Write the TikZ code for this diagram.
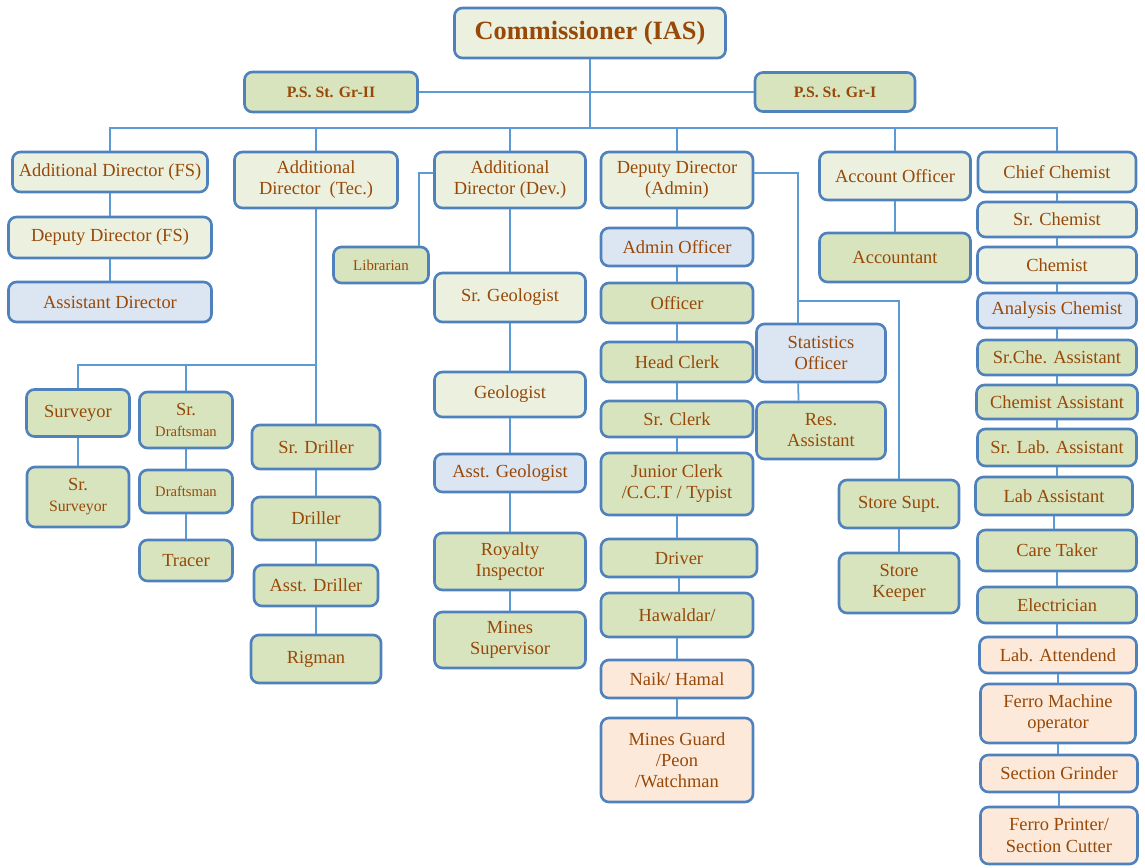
\documentclass[tikz,border=0pt]{standalone}
\usepackage{fontspec}
\setmainfont{Liberation Serif}
\usetikzlibrary{positioning}

\definecolor{boxline}{HTML}{4F81BD}
\definecolor{linkblue}{HTML}{5B9BD5}
\definecolor{txtbrown}{HTML}{984807}
\definecolor{palefill}{HTML}{EBF1DE}
\definecolor{greenfill}{HTML}{D7E4BD}
\definecolor{bluefill}{HTML}{DCE6F2}
\definecolor{peachfill}{HTML}{FDE9D9}

\begin{document}
\begin{tikzpicture}[
        x=0.02cm, y=-0.02cm,
        post/.style = {rectangle, draw=boxline, line width=1.5pt, rounded corners=4.5pt, text=txtbrown, align=center, inner sep=1pt, font=\fontsize{10.5}{12}\selectfont},
        palebox/.style = {post, fill=palefill},
        greenbox/.style = {post, fill=greenfill},
        bluebox/.style = {post, fill=bluefill},
        peachbox/.style = {post, fill=peachfill},
        boxsize/.style 2 args = {minimum width=#1*0.02cm, minimum height=#2*0.02cm},
        link/.style = {draw=linkblue, line width=1pt}
    ]
        \useasboundingbox (0,0) rectangle (1145,868);

        % Top: Commissioner and P.S.
        \node [palebox, boxsize={271}{50}, font=\fontsize{15}{18}\selectfont\bfseries] (comm) at (590,33) {Commissioner (IAS)};
        \node [greenbox, boxsize={173}{40}, font=\fontsize{9}{11}\selectfont\bfseries] (psii) at (331,92) {P.S. St. Gr-II};
        \node [greenbox, boxsize={160}{39}, font=\fontsize{9}{11}\selectfont\bfseries] (psi) at (835,92) {P.S. St. Gr-I};

        % Row 1: Directors
        \node [palebox, boxsize={195}{40}] (adfs) at (110,172) {Additional Director (FS)};
        \node [palebox, boxsize={163}{56}] (adtec) at (316,180) {Additional\\Director~ (Tec.)};
        \node [palebox, boxsize={151}{56}] (addev) at (510,180) {Additional\\Director (Dev.)};
        \node [palebox, boxsize={152}{56}] (ddadmin) at (677,180) {Deputy Director\\(Admin)};
        \node [palebox, boxsize={151}{48}] (acct) at (895,176) {Account Officer};
        \node [palebox, boxsize={158}{40}] (chief) at (1057,172) {Chief Chemist};

        % FS branch
        \node [palebox, boxsize={203}{41}] (ddfs) at (110,237.5) {Deputy Director (FS)};
        \node [bluebox, boxsize={203}{40}] (asstdir) at (110,302) {Assistant Director};

        % Tec branch
        \node [greenbox, boxsize={103}{47}] (surveyor) at (78,413) {Surveyor};
        \node [greenbox, boxsize={102}{60}] (srsurveyor) at (78,497) {Sr.\\{\fontsize{9}{10}\selectfont Surveyor}};
        \node [greenbox, boxsize={93}{56}] (srdraft) at (186,420) {Sr.\\{\fontsize{8.3}{10}\selectfont Draftsman}};
        \node [greenbox, boxsize={93}{43}, font=\fontsize{8.3}{10}\selectfont] (draft) at (186,491.5) {Draftsman};
        \node [greenbox, boxsize={93}{41}] (tracer) at (186,560.5) {Tracer};
        \node [greenbox, boxsize={128}{44}] (srdriller) at (316,447) {Sr. Driller};
        \node [greenbox, boxsize={128}{43}] (driller) at (316,518.5) {Driller};
        \node [greenbox, boxsize={124}{41}] (asstdriller) at (316,585.5) {Asst. Driller};
        \node [greenbox, boxsize={130}{48}] (rigman) at (316,659) {Rigman};

        % Dev branch
        \node [greenbox, boxsize={95}{36}, font=\fontsize{8.5}{10}\selectfont] (librarian) at (381,265) {Librarian};
        \node [palebox, boxsize={151}{49}] (srgeol) at (510,297.5) {Sr. Geologist};
        \node [palebox, boxsize={151}{45}] (geol) at (510,394.5) {Geologist};
        \node [bluebox, boxsize={151}{38}] (asstgeol) at (510,473) {Asst. Geologist};
        \node [greenbox, boxsize={151}{57}] (royalty) at (510,561.5) {Royalty\\Inspector};
        \node [greenbox, boxsize={151}{56}] (minessup) at (510,640) {Mines\\Supervisor};

        % Admin branch
        \node [bluebox, boxsize={152}{38}] (adminoff) at (677,247) {Admin Officer};
        \node [greenbox, boxsize={152}{40}] (officer) at (677,303) {Officer};
        \node [greenbox, boxsize={152}{40}] (headclerk) at (677,362) {Head Clerk};
        \node [greenbox, boxsize={152}{36}] (srclerk) at (677,419) {Sr. Clerk};
        \node [greenbox, boxsize={152}{62}] (junior) at (677,484) {Junior Clerk\\/C.C.T / Typist};
        \node [greenbox, boxsize={156}{38}] (driver) at (679,558) {Driver};
        \node [greenbox, boxsize={152}{44}] (hawaldar) at (677,615) {Hawaldar/};
        \node [peachbox, boxsize={152}{38}] (naik) at (677,679) {Naik/ Hamal};
        \node [peachbox, boxsize={152}{84}] (minesguard) at (677,760) {Mines Guard\\/Peon\\/Watchman};

        % Statistics and store
        \node [bluebox, boxsize={129}{58}] (statoff) at (821,353) {Statistics\\Officer};
        \node [greenbox, boxsize={129}{57}] (resasst) at (821,430.5) {Res.\\Assistant};
        \node [greenbox, boxsize={120}{48}] (storesupt) at (899,504) {Store Supt.};
        \node [greenbox, boxsize={120}{60}] (storekeeper) at (899,583) {Store\\Keeper};

        % Accounts
        \node [greenbox, boxsize={151}{49}] (accountant) at (895,257.5) {Accountant};

        % Chemist branch
        \node [palebox, boxsize={159}{35}] (srchem) at (1057,219.5) {Sr. Chemist};
        \node [palebox, boxsize={159}{36}] (chem) at (1057,265) {Chemist};
        \node [bluebox, boxsize={159}{35}] (anachem) at (1057,310.5) {Analysis Chemist};
        \node [greenbox, boxsize={159}{35}] (srche) at (1057,357.5) {Sr.Che. Assistant};
        \node [greenbox, boxsize={161}{34}] (chemasst) at (1057,402) {Chemist Assistant};
        \node [greenbox, boxsize={159}{37}] (srlab) at (1057,447.5) {Sr. Lab. Assistant};
        \node [greenbox, boxsize={157}{38}] (labasst) at (1054,496) {Lab Assistant};
        \node [greenbox, boxsize={159}{41}] (caretaker) at (1057,550.5) {Care Taker};
        \node [greenbox, boxsize={159}{36}] (elec) at (1057,605) {Electrician};
        \node [peachbox, boxsize={157}{36}] (labatt) at (1058,655) {Lab. Attendend};
        \node [peachbox, boxsize={155}{59}] (ferromach) at (1058,713.5) {Ferro Machine\\operator};
        \node [peachbox, boxsize={157}{37}] (secgrind) at (1059,773.5) {Section Grinder};
        \node [peachbox, boxsize={157}{57}] (ferroprint) at (1059,835.5) {Ferro Printer/\\Section Cutter};

        % Connections
        \coordinate (bus) at (590,128);
        \coordinate (tecbr) at (316,365);
        \coordinate (statbr) at (statoff.127 |- 0,301);

        \draw [link] (comm.south) -- (comm.south |- bus);
        \draw [link] (psii) -- (psi);
        \draw [link] (adfs.north) |- (bus) -| (chief.north);
        \foreach \n in {adtec, addev, ddadmin, acct}
            \draw [link] (\n.north) -- (\n.north |- bus);

        \foreach \a/\b in {adfs/ddfs, ddfs/asstdir,
                adtec/srdriller, srdriller/driller, driller/asstdriller, asstdriller/rigman,
                surveyor/srsurveyor, srdraft/draft, draft/tracer,
                addev/srgeol, srgeol/geol, geol/asstgeol, asstgeol/royalty, royalty/minessup,
                ddadmin/adminoff, adminoff/officer, officer/headclerk, headclerk/srclerk, srclerk/junior,
                junior/driver, driver/hawaldar, hawaldar/naik, naik/minesguard,
                acct/accountant, storesupt/storekeeper,
                chief/srchem, srchem/chem, chem/anachem, anachem/srche, srche/chemasst, chemasst/srlab,
                srlab/labasst, labasst/caretaker, caretaker/elec, elec/labatt, labatt/ferromach,
                ferromach/secgrind, secgrind/ferroprint}
            \draw [link] (\b.north -| \a) -- (\a.south);

        \draw [link] (surveyor.north) |- (tecbr);
        \draw [link] (srdraft.north) -- (srdraft.north |- tecbr);
        \draw [link] (addev.175) -| (librarian.27);
        \draw [link] (ddadmin.5) -| (statbr) -| (storesupt.north);
        \draw [link] (statbr) -- (statoff.127);
        \draw [link] (statoff.233) -- (resasst.127);

    \end{tikzpicture}
\end{document}
